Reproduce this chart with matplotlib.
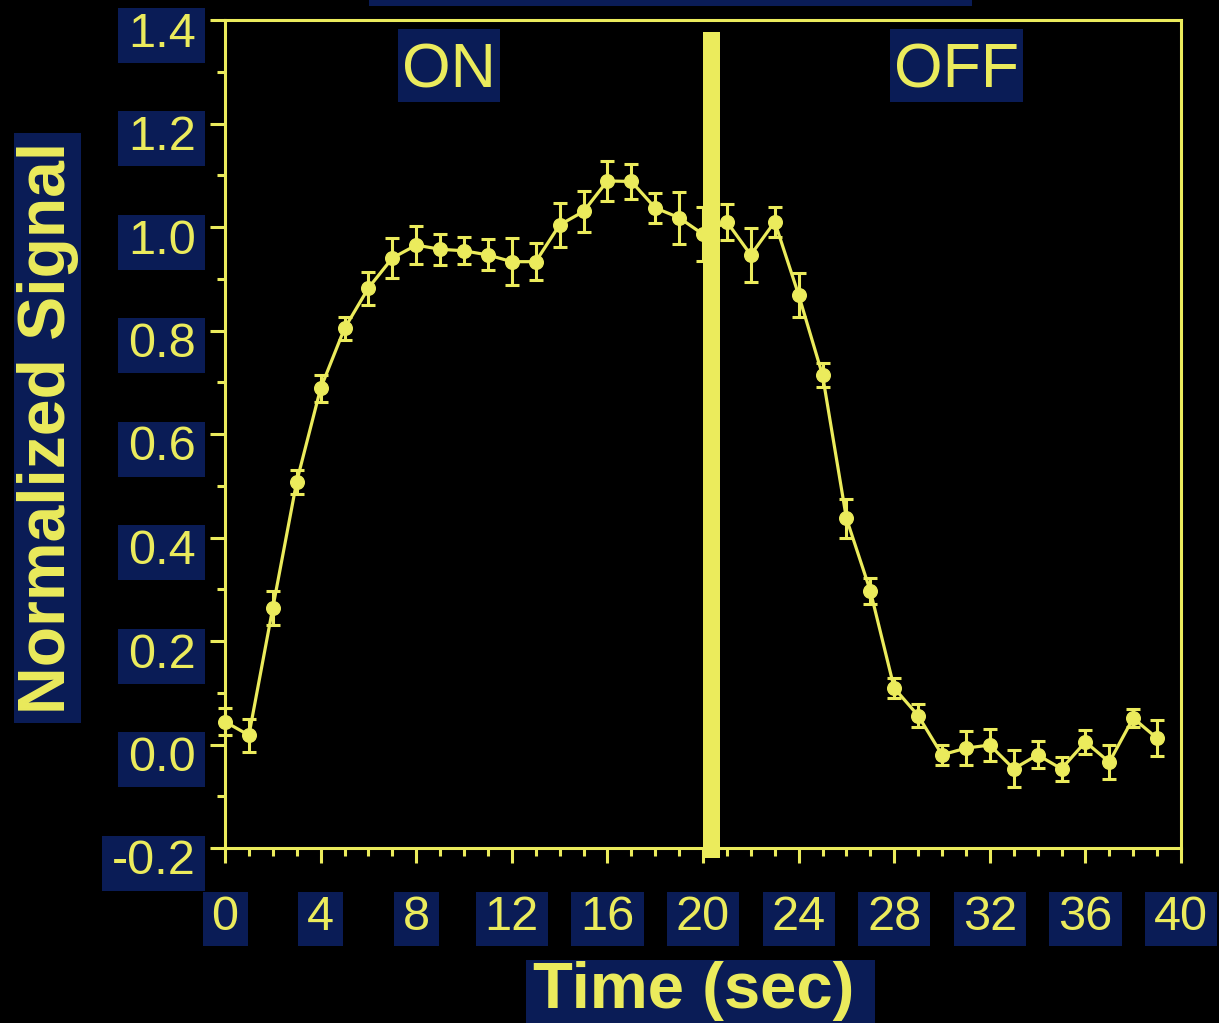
import matplotlib
matplotlib.use("Agg")
import matplotlib.pyplot as plt
from matplotlib.path import Path
from matplotlib.patches import Rectangle
from matplotlib.transforms import ScaledTranslation

YELLOW = "#ebeb5c"
NAVY = "#0a1c56"

# data
time_s = [0, 1, 2, 3, 4, 5, 6, 7, 8, 9, 10, 11, 12, 13, 14, 15, 16, 17, 18, 19,
          20, 21, 22, 23, 24, 25, 26, 27, 28, 29, 30, 31, 32, 33, 34, 35, 36, 37, 38, 39]
signal = [0.044, 0.018, 0.264, 0.508, 0.688, 0.804, 0.882, 0.940, 0.965, 0.957,
          0.954, 0.946, 0.933, 0.933, 1.004, 1.030, 1.089, 1.088, 1.037, 1.018,
          0.986, 1.010, 0.946, 1.010, 0.869, 0.714, 0.437, 0.297, 0.109, 0.056,
          -0.020, -0.007, -0.001, -0.047, -0.020, -0.047, 0.005, -0.034, 0.051, 0.012]
sem = [0.026, 0.032, 0.033, 0.023, 0.026, 0.023, 0.032, 0.039, 0.036, 0.030,
       0.026, 0.030, 0.046, 0.036, 0.042, 0.039, 0.039, 0.033, 0.029, 0.050,
       0.052, 0.035, 0.052, 0.029, 0.042, 0.023, 0.038, 0.025, 0.020, 0.023,
       0.020, 0.033, 0.030, 0.036, 0.026, 0.023, 0.023, 0.033, 0.017, 0.035]
x_ticks = [0, 4, 8, 12, 16, 20, 24, 28, 32, 36, 40]
y_ticks = [-0.2, 0.0, 0.2, 0.4, 0.6, 0.8, 1.0, 1.2, 1.4]
y_tick_labels = ["-0.2", "0.0", "0.2", "0.4", "0.6", "0.8", "1.0", "1.2", "1.4"]
stim_start, stim_end = 20.0, 20.7
phase_labels = [("ON", 9.39), ("OFF", 30.6)]


def pad_box(left, right, bottom, top):
    # rectangle around the text with separate paddings (pixels)
    def style(x0, y0, width, height, mutation_size):
        x1, y1 = x0 + width, y0 + height
        verts = [(x0 - left, y0 - bottom), (x1 + right, y0 - bottom),
                 (x1 + right, y1 + top), (x0 - left, y1 + top),
                 (x0 - left, y0 - bottom)]
        return Path(verts, closed=True)
    return style


fig = plt.figure(figsize=(12.19, 10.23), dpi=100, facecolor="black")
ax = fig.add_axes([225 / 1219, 175 / 1023, 956 / 1219, 828 / 1023])
ax.set_facecolor("black")

ax.errorbar(time_s, signal, yerr=sem, color=YELLOW, lw=2.3, marker="o", ms=9.8,
            elinewidth=2.2, capsize=4.8, capthick=2.2, clip_on=False, zorder=3)
ax.axvspan(stim_start, stim_end, ymin=-0.012, ymax=0.9855, color=YELLOW,
           lw=0, clip_on=False, zorder=4)

ax.set_xlim(0, 40)
ax.set_ylim(-0.2, 1.4)
ax.set_xticks(x_ticks)
ax.set_xticks(range(0, 41), minor=True)
ax.set_yticks(y_ticks)
ax.set_yticklabels(y_tick_labels)
ax.set_yticks([v / 10 for v in range(-2, 15)], minor=True)

for s in ax.spines.values():
    s.set_color(YELLOW)
    s.set_linewidth(2.2)

ax.tick_params(which="both", direction="out", color=YELLOW, width=2.2,
               labelcolor=YELLOW, labelsize=35)
ax.tick_params(which="major", length=11)
ax.tick_params(which="minor", length=5.5)
ax.tick_params(axis="x", which="major", pad=23)
ax.tick_params(axis="y", which="major", pad=10)
ax.tick_params(top=False, right=False)

tick_font = "Liberation Sans"
shift = ScaledTranslation(0, -0.09, fig.dpi_scale_trans)
for t in ax.yaxis.get_major_ticks():
    t.label1.set_fontfamily(tick_font)
    t.label1.set_transform(t.label1.get_transform() + shift)
    t.label1.set_bbox(dict(boxstyle=pad_box(10, 9, 6, 4), fc=NAVY, ec="none"))
for t in ax.xaxis.get_major_ticks():
    t.label1.set_fontfamily(tick_font)
    t.label1.set_bbox(dict(boxstyle=pad_box(9, 9, 6, 3), fc=NAVY, ec="none"))

ax.set_ylabel("Normalized Signal", fontsize=47.5, fontweight="bold",
              family="Liberation Sans", color=YELLOW,
              bbox=dict(boxstyle=pad_box(9, 9, 2, 3), fc=NAVY, ec="none"))
ax.yaxis.set_label_coords(-0.1527, 0.5072)
ax.set_xlabel("Time (sec)", fontsize=47, fontweight="bold",
              family="Liberation Sans", color=YELLOW,
              bbox=dict(boxstyle=pad_box(7, 21, 14, 1), fc=NAVY, ec="none"))
ax.xaxis.set_label_coords(0.490, -0.1365)

for txt, xpos in phase_labels:
    ax.text(xpos, 1.2705, txt, ha="center", va="baseline", fontsize=45,
            family=["Liberation Sans Narrow", "Liberation Sans"], color=YELLOW,
            bbox=dict(boxstyle=pad_box(4, 4, 2, 12), fc=NAVY, ec="none"),
            zorder=5)

# title box cut off by the top edge
fig.add_artist(Rectangle((369 / 1219, 1 - 6 / 1023), 603 / 1219, 0.02,
                         transform=fig.transFigure, fc=NAVY, ec="none"))

fig.savefig("out.png", dpi=100, facecolor="black")
